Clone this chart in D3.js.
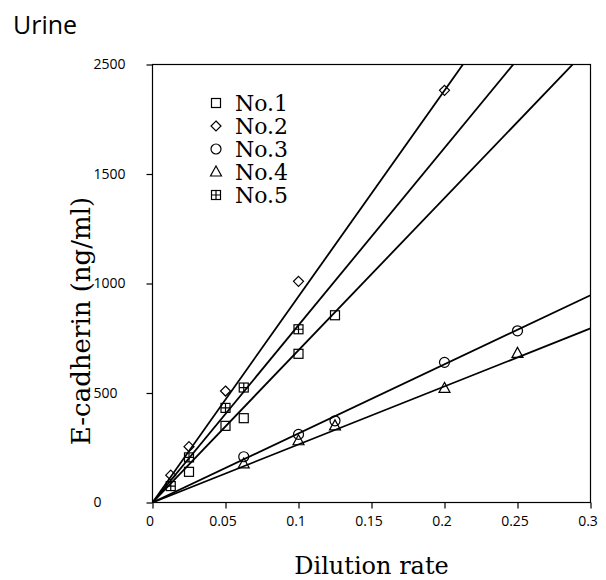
<!DOCTYPE html>
<html>
<head>
<meta charset="utf-8">
<script src="https://cdnjs.cloudflare.com/ajax/libs/d3/7.8.5/d3.min.js"></script>
<style>
	body { margin: 0; background: #fff; }
	svg { display: block; }
</style>
</head>
<body>
<script>
// dilution rates and measured values, one list per sample
const seriesNames = ["No.1", "No.2", "No.3", "No.4", "No.5"];
const seriesShapes = ["square", "diamond", "circle", "triangle", "crossed"];

const no1Rate = [0.025, 0.05, 0.0625, 0.1, 0.125];
const no1Value = [140, 350, 385, 679, 855];
const no2Rate = [0.0125, 0.025, 0.05, 0.1, 0.2];
const no2Value = [125, 255, 509, 1010, 1882];
const no3Rate = [0.0625, 0.1, 0.125, 0.2, 0.25];
const no3Value = [209, 311, 373, 640, 784];
const no4Rate = [0.0625, 0.1, 0.125, 0.2, 0.25];
const no4Value = [176, 282, 350, 521, 681];
const no5Rate = [0.0125, 0.025, 0.05, 0.0625, 0.1];
const no5Value = [75, 206, 432, 525, 791];

// fitted lines (slope per unit dilution rate)
const fitSlope = [6951, 9407, 3155, 2650, 8095];

const xTickValues = [0, 0.05, 0.1, 0.15, 0.2, 0.25, 0.3];
const xTickLabels = ["0", "0.05", "0.1", "0.15", "0.2", "0.25", "0.3"];
const yTickValues = [0, 500, 1000, 1500, 2000];
const yTickLabels = ["0", "500", "1000", "1500", "2500"];

const rates = [no1Rate, no2Rate, no3Rate, no4Rate, no5Rate];
const values = [no1Value, no2Value, no3Value, no4Value, no5Value];

const width = 606;
const height = 580;
const plotLeft = 152.5, plotRight = 590.5, plotTop = 64.5, plotBottom = 502.5;

const xScale = d3.scaleLinear().domain([0, 0.3]).range([plotLeft, plotRight]);
const yScale = d3.scaleLinear().domain([0, 2000]).range([plotBottom, plotTop]);

const svg = d3.select('body')
	.append('svg')
		.attr('width', width)
		.attr('height', height);

const sans = "'Open Sans', 'DejaVu Sans', sans-serif";
const serif = "'DejaVu Serif', 'Liberation Serif', serif";

// title
svg.append('text')
	.attr('x', 13)
	.attr('y', 33.5)
	.attr('font-family', sans)
	.attr('font-size', 25)
	.text('Urine');

// frame
svg.append('rect')
	.attr('x', plotLeft)
	.attr('y', plotTop)
	.attr('width', plotRight - plotLeft)
	.attr('height', plotBottom - plotTop)
	.attr('fill', 'none')
	.attr('stroke', '#000')
	.attr('stroke-width', 1.2);

// x-axis
const xAxis = svg.append('g')
	.attr('transform', `translate(0, ${plotBottom})`)
	.call(d3.axisBottom(xScale)
		.tickValues(xTickValues)
		.tickFormat((d, i) => xTickLabels[i])
		.tickSize(6)
		.tickPadding(8));
xAxis.select('.domain').remove();
xAxis.selectAll('line').attr('stroke-width', 1.2);
xAxis.selectAll('text')
	.attr('dx', -3)
	.attr('font-family', sans)
	.attr('font-size', 14)
	.attr('fill', '#000');

// y-axis (labels left aligned like the original)
const yAxis = svg.append('g')
	.attr('transform', `translate(${plotLeft}, 0)`)
	.call(d3.axisLeft(yScale)
		.tickValues(yTickValues)
		.tickFormat((d, i) => yTickLabels[i])
		.tickSize(6));
yAxis.select('.domain').remove();
yAxis.selectAll('line').attr('stroke-width', 1.2);
yAxis.selectAll('text')
	.attr('x', -(plotLeft - 93.5))
	.attr('text-anchor', 'start')
	.attr('font-family', sans)
	.attr('font-size', 14)
	.attr('fill', '#000');

// axis titles
svg.append('text')
	.attr('x', (plotLeft + plotRight) / 2)
	.attr('y', 574)
	.attr('text-anchor', 'middle')
	.attr('font-family', serif)
	.attr('font-size', 24)
	.text('Dilution rate');

svg.append('text')
	.attr('transform', 'translate(90, 321) rotate(-90)')
	.attr('text-anchor', 'middle')
	.attr('font-family', serif)
	.attr('font-size', 26)
	.text('E-cadherin (ng/ml)');

// fit lines, clipped to the plot
svg.append('clipPath')
	.attr('id', 'plotClip')
	.append('rect')
		.attr('x', plotLeft)
		.attr('y', plotTop)
		.attr('width', plotRight - plotLeft)
		.attr('height', plotBottom - plotTop);

svg.append('g')
	.attr('clip-path', 'url(#plotClip)')
	.selectAll('line')
	.data(fitSlope)
	.enter()
		.append('line')
			.attr('x1', xScale(0))
			.attr('y1', yScale(0))
			.attr('x2', xScale(0.3))
			.attr('y2', (s) => yScale(s * 0.3))
			.attr('stroke', '#000')
			.attr('stroke-width', 1.8);

// marker drawing
function drawMarker(g, shape, cx, cy) {
	const s = 4.5;
	if (shape == "square") {
		g.append('rect').attr('x', cx - s).attr('y', cy - s)
			.attr('width', 2 * s).attr('height', 2 * s);
	} else if (shape == "diamond") {
		g.append('path').attr('d', `M${cx},${cy - 5}L${cx + 5},${cy}L${cx},${cy + 5}L${cx - 5},${cy}Z`);
	} else if (shape == "circle") {
		g.append('circle').attr('cx', cx).attr('cy', cy).attr('r', 5);
	} else if (shape == "triangle") {
		g.append('path').attr('d', `M${cx},${cy - 6}L${cx + 5.5},${cy + 4}L${cx - 5.5},${cy + 4}Z`);
	} else {
		g.append('rect').attr('x', cx - s).attr('y', cy - s)
			.attr('width', 2 * s).attr('height', 2 * s);
		g.append('path').attr('d', `M${cx - s},${cy}H${cx + s}M${cx},${cy - s}V${cy + s}`);
	}
}

const marks = svg.append('g')
	.attr('fill', 'none')
	.attr('stroke', '#000')
	.attr('stroke-width', 1.2);

for (let i = 0; i < seriesNames.length; i++) {
	for (let j = 0; j < rates[i].length; j++) {
		drawMarker(marks, seriesShapes[i], xScale(rates[i][j]), yScale(values[i][j]));
	}
}

// legend
const legend = svg.append('g');
const legendMarks = legend.append('g')
	.attr('fill', 'none')
	.attr('stroke', '#000')
	.attr('stroke-width', 1.2);
for (let i = 0; i < seriesNames.length; i++) {
	const ly = 103 + i * 23;
	drawMarker(legendMarks, seriesShapes[i], 216, ly);
	legend.append('text')
		.attr('x', 235)
		.attr('y', ly + 8)
		.attr('font-family', serif)
		.attr('font-size', 22)
		.text(seriesNames[i]);
}
</script>
</body>
</html>
